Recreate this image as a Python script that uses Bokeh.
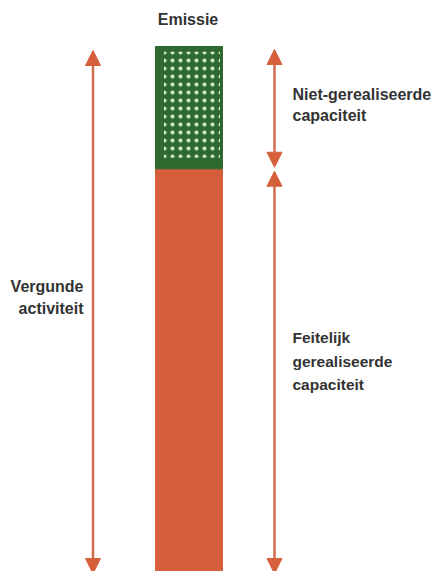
from bokeh.plotting import figure
from bokeh.models import Range1d, Arrow, NormalHead, ColumnDataSource
from bokeh.core.properties import value
from bokeh.embed import file_html
from bokeh.resources import INLINE

# ---- data ----
segments = ["Feitelijk gerealiseerde capaciteit", "Niet-gerealiseerde capaciteit"]
values = [76.7, 23.3]
bar_label = ["Emissie"]
permit_lines = ["Vergunde", "activiteit"]
unreal_lines = ["Niet-gerealiseerde", "capaciteit"]
real_lines = ["Feitelijk", "gerealiseerde", "capaciteit"]

# ---- layout ----
W, H = 435, 571
PX_PER_UNIT = 5.25
TOP_PX = 46
total = sum(values)
realized = values[0]
y_end = total + TOP_PX / PX_PER_UNIT
y_start = y_end - H / PX_PER_UNIT


def ypx(px):
    """pixel offset from top of plot -> data y"""
    return y_end - px / PX_PER_UNIT


ORANGE = "#d65e3d"
GREEN = "#2e6a30"
SHAFT = "#d36b52"
HEAD = "#d65f3c"
TEXT = "#333333"
FONT = value("Liberation Sans")

p = figure(width=W, height=H, x_range=Range1d(0, W), y_range=Range1d(y_start, y_end),
           output_backend="svg", toolbar_location=None, min_border=0,
           x_axis_location=None, y_axis_location=None)
p.grid.visible = False
p.outline_line_color = None
p.background_fill_color = "white"
p.border_fill_color = "white"

bottoms = [0, realized]
tops = [realized, total]
src = ColumnDataSource(dict(seg=segments, bottom=bottoms, top=tops, color=[ORANGE, GREEN]))
BAR_X, BAR_W = 188.5, 67
p.vbar(x=BAR_X, width=BAR_W, bottom="bottom", top="top", color="color", source=src)

# dotted texture in the unrealised part
p.quad(left=BAR_X - 25, right=BAR_X + 31, bottom=realized + 2.1, top=total - 1.0,
       fill_alpha=0, line_alpha=0, hatch_pattern=".", hatch_scale=8,
       hatch_color="#d2eacb", hatch_weight=1)

def head():
    return NormalHead(size=15, fill_color=HEAD, line_color=HEAD, line_width=1)

LEFT_X = 92.5
RIGHT_X = 274
p.add_layout(Arrow(x_start=LEFT_X, y_start=-0.4, x_end=LEFT_X, y_end=total - 0.76,
                   start=head(), end=head(), line_color=SHAFT, line_width=2.5))
p.add_layout(Arrow(x_start=RIGHT_X, y_start=realized + 0.3, x_end=RIGHT_X, y_end=total - 0.57,
                   start=head(), end=head(), line_color=SHAFT, line_width=2.5))
p.add_layout(Arrow(x_start=RIGHT_X, y_start=-0.4, x_end=RIGHT_X, y_end=realized - 0.46,
                   start=head(), end=head(), line_color=SHAFT, line_width=2.5))

common = dict(text_font=FONT, text_font_style="bold",
              text_color=TEXT, text_baseline="alphabetic")

p.text(x=[BAR_X - 1], y=[ypx(19)], text=bar_label, text_align="center",
       text_font_size="16px", **common)

p.text(x=[292] * len(unreal_lines), y=[ypx(94 + 21 * i) for i in range(len(unreal_lines))],
       text=unreal_lines, text_align="left", text_font_size="16px", **common)
p.text(x=[83] * len(permit_lines), y=[ypx(286 + 22 * i) for i in range(len(permit_lines))],
       text=permit_lines, text_align="right", text_font_size="16px", **common)
p.text(x=[292] * len(real_lines), y=[ypx(337 + 23.5 * i) for i in range(len(real_lines))],
       text=real_lines, text_align="left", text_font_size="15.5px", **common)

open("out.html", "w").write(file_html(p, INLINE))
